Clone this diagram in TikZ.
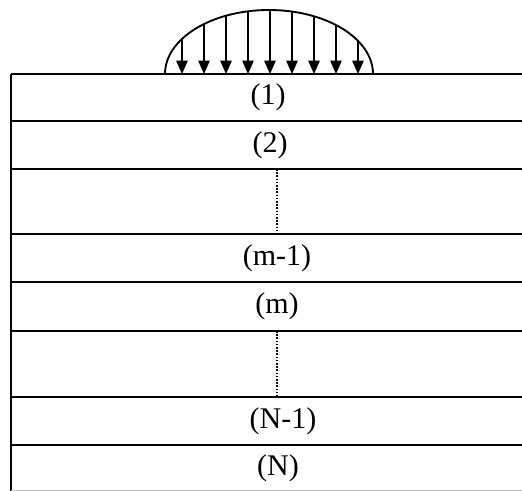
\documentclass[tikz,border=0pt]{standalone}
\usepackage{fontspec}
\setmainfont{Liberation Serif}
\usepackage{tikz}
\usetikzlibrary{arrows.meta}

\begin{document}
\begin{tikzpicture}[x=0.75pt,y=-0.75pt,font=\fontsize{22.5}{27}\selectfont,
    interface/.style={line width=1.8pt},
    gapline/.style={line width=1.8pt,dash pattern=on 1.2pt off 1.2pt},
    load/.style={line width=1.1pt,-{Triangle[length=10pt,width=8.5pt]}}]
    \useasboundingbox (0,0) rectangle (522,491);
    % layered half-space
    \draw[interface] (11,491) -- (11,74);
    \foreach \yy in {74,121,169,234,282,331,397,445}
      \draw[interface] (11,\yy) -- (522,\yy);
    \draw[gray!50,line width=0.6pt] (11,490) -- (522,490);
    \draw[gapline] (277,169) -- (277,234);
    \draw[gapline] (277,331) -- (277,397);
    % layer labels
    \node (l1) at (268,97.5) {(1)};
    \node (l2) at (270,145) {(2)};
    \node (lm1) at (277,258) {(m-1)};
    \node (lm) at (277,306) {(m)};
    \node (lN1) at (283,421) {(N-1)};
    \node (lN) at (278,468) {(N)};
    % surface load
    \draw[line width=1.4pt] (165,74) arc[start angle=180,end angle=360,x radius=104,y radius=64];
    \foreach \x in {182,204,226,248,270,292,314,336,358}
      \draw[load] (\x,{74-64*sqrt(1-((\x-269)/104)*((\x-269)/104))}) -- (\x,74);
\end{tikzpicture}
\end{document}
